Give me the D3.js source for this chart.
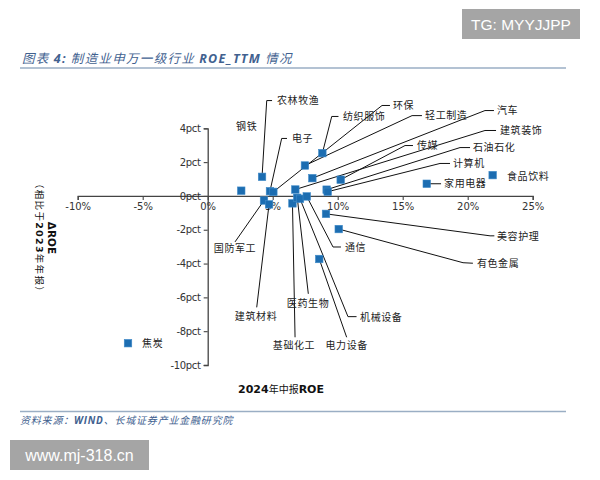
<!DOCTYPE html>
<html>
<head>
<meta charset="utf-8">
<script src="https://cdn.jsdelivr.net/npm/d3@7"></script>
<style>
  html, body { margin: 0; padding: 0; background: #fff; }
  svg { display: block; }
</style>
</head>
<body>
<svg id="chart" width="600" height="480"></svg>
<script>
// ---------------- DATA ----------------
const industries = ["钢铁","农林牧渔","电子","环保","轻工制造","纺织服饰","汽车","建筑装饰","石油石化","计算机","传媒","家用电器","食品饮料","国防军工","建筑材料","基础化工","医药生物","机械设备","通信","美容护理","有色金属","电力设备","焦炭"];
// x: 2024 H1 ROE (TTM, %)
const roe2024H1 = [2.58, 4.18, 4.79, 5.05, 7.48, 8.82, 8.05, 6.74, 9.15, 9.23, 10.23, 16.85, 21.92, 4.33, 4.72, 6.52, 6.89, 7.10, 7.62, 9.10, 10.08, 8.58, -6.13];
// y: change vs 2023 annual report (pct)
const roeChange = [0.31, 1.13, 0.28, 0.24, 1.80, 2.53, 1.05, 0.38, 0.37, 0.25, 0.96, 0.72, 1.23, -0.27, -0.50, -0.44, -0.11, -0.17, -0.03, -1.06, -1.96, -3.73, -8.71];
const xTicks = [-10, -5, 0, 5, 10, 15, 20, 25];
const yTicks = [4, 2, 0, -2, -4, -6, -8, -10];
const xTickLabels = ["-10%", "-5%", "0%", "5%", "10%", "15%", "20%", "25%"];
const yTickLabels = ["4pct", "2pct", "0pct", "-2pct", "-4pct", "-6pct", "-8pct", "-10pct"];

const titleText = ["图表 ", "4:", " 制造业申万一级行业 ", "ROE_TTM", " 情况"];
const sourceText = ["资料来源：", "WIND", "、长城证券产业金融研究院"];

// ---------------- LABEL LAYOUT (data units) ----------------
const labelLayout = {
  "钢铁":     {t:[2.18, 4.10], a:"start", p:[]},
  "农林牧渔": {t:[5.33, 5.64], a:"start", p:[[4.54,5.64],[4.95,5.64]]},
  "电子":     {t:[6.48, 3.40], a:"start", p:[[5.69,3.40],[6.10,3.40]]},
  "纺织服饰": {t:[10.41,4.70], a:"start", p:[[9.54,4.70],[10.06,4.70]]},
  "环保":     {t:[14.25,5.35], a:"start", p:[[13.41,5.35],[14.02,5.35]]},
  "轻工制造": {t:[16.72,4.75], a:"start", p:[[15.72,4.75],[16.48,4.75]]},
  "汽车":     {t:[22.25,5.05], a:"start", p:[[21.33,5.05],[22.02,5.05]]},
  "建筑装饰": {t:[22.48,3.87], a:"start", p:[[21.33,3.87],[22.18,3.87]]},
  "传媒":     {t:[16.10,2.98], a:"start", p:[[15.18,2.98],[15.79,2.98]]},
  "石油石化": {t:[20.41,2.86], a:"start", p:[[19.41,2.86],[20.18,2.86]]},
  "计算机":   {t:[18.87,1.92], a:"start", p:[[17.87,1.92],[18.64,1.92]]},
  "家用电器": {t:[18.18,0.72], a:"start", p:[[17.95,0.72]]},
  "食品饮料": {t:[23.02,1.15], a:"start", p:[]},
  "美容护理": {t:[22.25,-2.40], a:"start", p:[[21.72,-2.36],[22.05,-2.36]]},
  "有色金属": {t:[20.71,-4.00], a:"start", p:[[19.64,-3.95],[20.40,-3.98]]},
  "通信":     {t:[10.56,-3.02], a:"start", p:[[9.64,-3.02],[10.25,-3.02]]},
  "机械设备": {t:[11.72,-7.16], a:"start", p:[[10.79,-7.14],[11.45,-7.14]]},
  "电力设备": {t:[10.69,-8.83], a:"middle", p:[[10.69,-8.36]]},
  "基础化工": {t:[6.64,-8.83],  a:"middle", p:[[6.72,-8.36]]},
  "医药生物": {t:[7.72,-6.33],  a:"middle", p:[[7.74,-5.79]]},
  "建筑材料": {t:[3.72,-7.12],  a:"middle", p:[[3.77,-6.59]]},
  "国防军工": {t:[2.10,-3.08],  a:"middle", p:[[2.10,-2.72]]},
  "焦炭":     {t:[-5.05,-8.73], a:"start", p:[]}
};

// ---------------- DRAW ----------------
const svg = d3.select("#chart");
const titleColor = "#41618f";
const cjk = "'Noto Sans CJK SC', 'Noto Sans', sans-serif";
const latin = "'DejaVu Sans', 'Noto Sans CJK SC', sans-serif";

// watermark boxes
svg.append("rect").attr("x", 462).attr("y", 9).attr("width", 118).attr("height", 30).attr("fill", "#a5a5a5");
svg.append("text").attr("x", 521).attr("y", 29.5).attr("text-anchor", "middle")
  .attr("font-family", "'Liberation Sans', Arial, sans-serif").attr("font-size", 15.5).attr("fill", "#fff")
  .text("TG: MYYJJPP");
svg.append("rect").attr("x", 10).attr("y", 440).attr("width", 139).attr("height", 30).attr("fill", "#a5a5a5");
svg.append("text").attr("x", 79.5).attr("y", 461).attr("text-anchor", "middle")
  .attr("font-family", "'Liberation Sans', Arial, sans-serif").attr("font-size", 16).attr("fill", "#fff")
  .text("www.mj-318.cn");

// title
const title = svg.append("text").attr("x", 22).attr("y", 62.5)
  .attr("font-family", cjk).attr("font-size", 12.5).attr("font-style", "italic")
  .attr("fill", titleColor).attr("letter-spacing", 1.3);
titleText.forEach((s, i) => {
  title.append("tspan").text(s)
    .attr("font-weight", (i === 1 || i === 3) ? "bold" : "normal")
    .attr("font-family", (i === 1 || i === 3) ? "'Open Sans', 'DejaVu Sans', sans-serif" : cjk);
});
svg.append("line").attr("x1", 20).attr("x2", 566).attr("y1", 68).attr("y2", 68)
  .attr("stroke", "#9aaec4").attr("stroke-width", 1.6);

// footer
svg.append("line").attr("x1", 20).attr("x2", 566).attr("y1", 411.5).attr("y2", 411.5)
  .attr("stroke", "#9aaec4").attr("stroke-width", 1.6);
const src = svg.append("text").attr("x", 20).attr("y", 424)
  .attr("font-family", cjk).attr("font-size", 10).attr("font-style", "italic")
  .attr("fill", titleColor).attr("letter-spacing", 0.8);
sourceText.forEach((s, i) => {
  src.append("tspan").text(s)
    .attr("font-weight", i === 1 ? "bold" : "normal")
    .attr("font-family", i === 1 ? "'Open Sans', 'DejaVu Sans', sans-serif" : cjk);
});

// scales
const x = d3.scaleLinear().domain([-10, 25]).range([77.7, 532.7]);
const y = d3.scaleLinear().domain([-10, 4]).range([365, 128.3]);

const axisColor = "#444";

// x axis at y=0
const xAxis = d3.axisBottom(x).tickValues(xTicks).tickSize(4).tickPadding(3)
  .tickFormat((d, i) => xTickLabels[i]);
const gx = svg.append("g").attr("transform", `translate(0,${y(0)})`).call(xAxis);
gx.select(".domain").attr("stroke", axisColor).attr("stroke-width", 1.3);
gx.selectAll(".tick line").attr("stroke", axisColor).attr("stroke-width", 1.1);
gx.selectAll(".tick text").attr("font-family", latin).attr("font-size", 10).attr("fill", "#333");

// y axis at x=0
const yAxis = d3.axisLeft(y).tickValues(yTicks).tickSize(4).tickPadding(3)
  .tickFormat((d, i) => yTickLabels[i]);
const gy = svg.append("g").attr("transform", `translate(${x(0)},0)`).call(yAxis);
gy.select(".domain").attr("stroke", axisColor).attr("stroke-width", 1.3);
gy.selectAll(".tick line").attr("stroke", axisColor).attr("stroke-width", 1.1);
gy.selectAll(".tick text").attr("font-family", latin).attr("font-size", 10).attr("fill", "#333")
  .attr("letter-spacing", -0.3);

// axis titles
const xt = svg.append("text").attr("x", 281).attr("y", 393).attr("text-anchor", "middle")
  .attr("font-size", 11).attr("fill", "#111");
xt.append("tspan").text("2024").attr("font-family", latin).attr("font-weight", "bold");
xt.append("tspan").text("年中报").attr("font-family", cjk).attr("font-size", 10);
xt.append("tspan").text("ROE").attr("font-family", latin).attr("font-weight", "bold");

svg.append("text").attr("transform", "translate(48,238) rotate(90)")
  .attr("text-anchor", "middle").attr("font-family", latin).attr("font-weight", "bold")
  .attr("font-size", 10.5).attr("fill", "#111").text("ΔROE");
const yt2 = svg.append("text").attr("transform", "translate(35.5,238) rotate(90)")
  .attr("text-anchor", "middle").attr("font-size", 9.5).attr("fill", "#111")
  .attr("letter-spacing", 1.3);
yt2.append("tspan").text("（相比于").attr("font-family", cjk);
yt2.append("tspan").text("2023").attr("font-family", latin).attr("font-weight", "bold");
yt2.append("tspan").text("年年报）").attr("font-family", cjk);

// data rows
const rows = industries.map((n, i) => ({ name: n, x: roe2024H1[i], y: roeChange[i], lay: labelLayout[n] }));

// leader lines
const line = d3.line().x(d => x(d[0])).y(d => y(d[1]));
svg.append("g").selectAll("path").data(rows.filter(r => r.lay.p.length))
  .join("path")
  .attr("d", r => line([[r.x, r.y], ...r.lay.p]))
  .attr("fill", "none").attr("stroke", "#111").attr("stroke-width", 1);

// markers
const ms = 7.5;
svg.append("g").selectAll("rect").data(rows).join("rect")
  .attr("x", r => x(r.x) - ms / 2).attr("y", r => y(r.y) - ms / 2)
  .attr("width", ms).attr("height", ms)
  .attr("fill", "#1c6db1").attr("stroke", "#3f8ac8").attr("stroke-width", 0.6);

// labels
svg.append("g").selectAll("text").data(rows).join("text")
  .attr("x", r => x(r.lay.t[0])).attr("y", r => y(r.lay.t[1]))
  .attr("dy", "0.36em").attr("text-anchor", r => r.lay.a)
  .attr("font-family", cjk).attr("font-size", 10).attr("letter-spacing", 0.6)
  .attr("fill", "#222").text(r => r.name);
</script>
</body>
</html>
